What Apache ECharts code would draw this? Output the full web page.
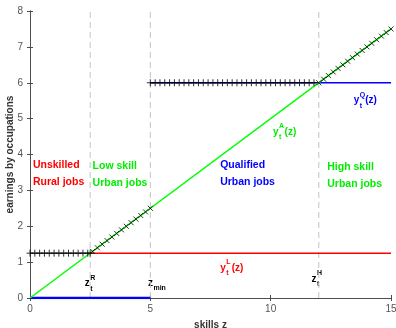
<!DOCTYPE html>
<html><head><meta charset="utf-8">
<script src="https://cdn.jsdelivr.net/npm/echarts@6/dist/echarts.min.js"></script>
<style>html,body{margin:0;padding:0;background:#fff}#c{width:396px;height:328px}</style>
</head><body><div id="c"></div>
<script>
// ---- data ----
const xTicks = [0, 5, 10, 15];
const yTicks = [0, 1, 2, 3, 4, 5, 6, 7, 8];
const thresholds = [2.5, 5, 12];              // z_t^R, z_min, z_t^H
const lineA = [[0, 0], [15, 7.5]];             // y_t^A(z)
const lineL = [[2.5, 1.25], [15, 1.25]];       // y_t^L(z)
const lineQ = [[5, 6], [15, 6]];               // y_t^Q(z)
const lineZero = [[0, 0], [5, 0]];             // y below z_min
const envFlat1 = [[0,1.25],[0.2,1.25],[0.4,1.25],[0.6,1.25],[0.8,1.25],[1.0,1.25],[1.2,1.25],[1.4,1.25],[1.6,1.25],[1.8,1.25],[2.0,1.25],[2.2,1.25],[2.4,1.25],[2.5,1.25]];
const envDiag1 = [[2.6,1.3],[2.8,1.4],[3.0,1.5],[3.2,1.6],[3.4,1.7],[3.6,1.8],[3.8,1.9],[4.0,2.0],[4.2,2.1],[4.4,2.2],[4.6,2.3],[4.8,2.4],[5.0,2.5]];
const envFlat2 = [[5.0,6],[5.2,6],[5.4,6],[5.6,6],[5.8,6],[6.0,6],[6.2,6],[6.4,6],[6.6,6],[6.8,6],[7.0,6],[7.2,6],[7.4,6],[7.6,6],[7.8,6],[8.0,6],[8.2,6],[8.4,6],[8.6,6],[8.8,6],[9.0,6],[9.2,6],[9.4,6],[9.6,6],[9.8,6],[10.0,6],[10.2,6],[10.4,6],[10.6,6],[10.8,6],[11.0,6],[11.2,6],[11.4,6],[11.6,6],[11.8,6]];
const envDiag2 = [[12.0,6.0],[12.2,6.1],[12.4,6.2],[12.6,6.3],[12.8,6.4],[13.0,6.5],[13.2,6.6],[13.4,6.7],[13.6,6.8],[13.8,6.9],[14.0,7.0],[14.2,7.1],[14.4,7.2],[14.6,7.3],[14.8,7.4],[15.0,7.5]];
const regionLabels = [
  {lines: ['Unskilled', 'Rural jobs'], at: [0.12, 3.7], color: '#ff0000'},
  {lines: ['Low skill', 'Urban jobs'], at: [2.6, 3.68], color: '#00ee00'},
  {lines: ['Qualified', 'Urban jobs'], at: [7.9, 3.7], color: '#0000ff'},
  {lines: ['High skill', 'Urban jobs'], at: [12.35, 3.66], color: '#00ee00'}
];
const mathLabels = [
  {base: 'y', sub: 't', sup: 'A', tail: '(z)', at: [10.1, 4.62], color: '#00ee00'},
  {base: 'y', sub: 't', sup: 'Q', tail: '(z)', at: [13.45, 5.5], color: '#0000ff'},
  {base: 'y', sub: 't', sup: 'L', tail: '(z)', at: [7.9, 0.84], color: '#ff0000'},
  {base: 'z', sub: 't', sup: 'R', tail: '', at: [2.28, 0.4], color: '#000'},
  {base: 'z', sub: 'min', sup: '', tail: '', at: [4.9, 0.42], color: '#000'},
  {base: 'z', sub: 't', sup: 'H', tail: '', at: [11.7, 0.52], color: '#000'}
];

const FONT = '"Liberation Sans", Arial, sans-serif';
const chart = echarts.init(document.getElementById('c'), null, {renderer: 'canvas'});
const plus = 'path://M5,0 L5,10 M0,5 L10,5';
const cross = 'path://M0,0 L10,10 M10,0 L0,10';
const axisCol = '#4d4d4d';

function lineSeries(data, color, width, extra) {
  return Object.assign({type: 'line', data: data, symbol: 'none', silent: true,
    lineStyle: {color: color, width: width}, xAxisIndex: 0, yAxisIndex: 0}, extra || {});
}
const series = [];
thresholds.forEach(t => series.push(lineSeries([[t, 0], [t, 8]], '#c4c4c4', 1, {lineStyle: {color: '#c4c4c4', width: 1, type: [6, 4]}})));
series.push(lineSeries(envFlat1, '#000', 1));
series.push(lineSeries(lineL, '#ff0000', 1.5));
series.push(lineSeries(lineQ, '#0000ff', 1.5));
series.push(lineSeries(lineZero, '#0000ff', 2.5));
series.push(lineSeries(envFlat2, '#000', 0.8));
series.push(lineSeries(lineA, '#00ff00', 1.5));
function markSeries(data, sym, size) {
  return {type: 'scatter', data: data, symbol: sym, symbolSize: size, silent: true,
    itemStyle: {color: 'none', borderColor: '#000', borderWidth: 1}, z: 5};
}
series.push(markSeries(envFlat1, plus, 7));
series.push(markSeries(envDiag1, cross, 5));
series.push(markSeries(envFlat2, plus, 7));
series.push(markSeries(envDiag2, cross, 5));

const axLine = {show: true, lineStyle: {color: axisCol, width: 1}};
chart.setOption({
  animation: false,
  grid: {left: 30, right: 5, top: 11, bottom: 30, containLabel: false, outerBoundsMode: 'none'},
  xAxis: [
    {type: 'value', min: 0, max: 15, interval: 5, position: 'bottom',
     axisLine: axLine, axisTick: {inside: true, length: 3, lineStyle: {color: axisCol}},
     splitLine: {show: false},
     axisLabel: {color: '#555', fontSize: 10, fontFamily: FONT, margin: 6,
       formatter: v => xTicks.includes(v) ? String(v) : ''},
     name: 'skills z', nameLocation: 'middle', nameGap: 22, nameMoveOverlap: false,
     nameTextStyle: {color: '#333', fontSize: 10, fontWeight: 'bold', fontFamily: FONT}},
    {type: 'value', min: 0, max: 15, interval: 5, position: 'top',
     axisLine: axLine, axisTick: {inside: true, length: 3, lineStyle: {color: axisCol}},
     axisLabel: {show: false}, splitLine: {show: false}}
  ],
  yAxis: [
    {type: 'value', min: 0, max: 8, interval: 1, position: 'left',
     axisLine: axLine, axisTick: {inside: true, length: 3, lineStyle: {color: axisCol}},
     splitLine: {show: false},
     axisLabel: {color: '#555', fontSize: 10, fontFamily: FONT, margin: 7,
       formatter: v => yTicks.includes(v) ? String(v) : ''},
     name: 'earnings by occupations', nameLocation: 'middle', nameGap: 15, nameMoveOverlap: false,
     nameTextStyle: {color: '#333', fontSize: 10, fontWeight: 'bold', fontFamily: FONT}},
    {type: 'value', min: 0, max: 8, interval: 1, position: 'right',
     axisLine: axLine, axisTick: {inside: true, length: 3, lineStyle: {color: axisCol}},
     axisLabel: {show: false}, splitLine: {show: false}}
  ],
  series: series
});

function buildGraphics() {
  const els = [];
  regionLabels.forEach(r => {
    const p = chart.convertToPixel({gridIndex: 0}, r.at);
    r.lines.forEach((ln, i) => {
      els.push({type: 'text', x: p[0], y: p[1] + i * 17, silent: true,
        style: {text: ln, fill: r.color, font: 'bold 10.5px ' + FONT, textVerticalAlign: 'middle', textAlign: 'left'}});
    });
  });
  mathLabels.forEach(m => {
    const p = chart.convertToPixel({gridIndex: 0}, m.at);
    const x = p[0], y = p[1];
    const f = 'bold 10px ' + FONT, fs = 'bold 7px ' + FONT;
    els.push({type: 'text', x: x, y: y, silent: true, style: {text: m.base, fill: m.color, font: f, textVerticalAlign: 'middle'}});
    const bw = m.base === 'y' ? 6 : 5.5;
    let w = 0;
    if (m.sub) {
      els.push({type: 'text', x: x + bw, y: y + 5, silent: true, style: {text: m.sub, fill: m.color, font: fs, textVerticalAlign: 'middle'}});
      w = Math.max(w, m.sub.length * 4.2);
    }
    if (m.sup) {
      els.push({type: 'text', x: x + bw, y: y - 6, silent: true, style: {text: m.sup, fill: m.color, font: fs, textVerticalAlign: 'middle'}});
      w = Math.max(w, 5);
    }
    if (m.tail) {
      els.push({type: 'text', x: x + bw + w + 0.5, y: y, silent: true, style: {text: m.tail, fill: m.color, font: f, textVerticalAlign: 'middle'}});
    }
  });
  chart.setOption({graphic: {elements: els}});
}
buildGraphics();
</script></body></html>
